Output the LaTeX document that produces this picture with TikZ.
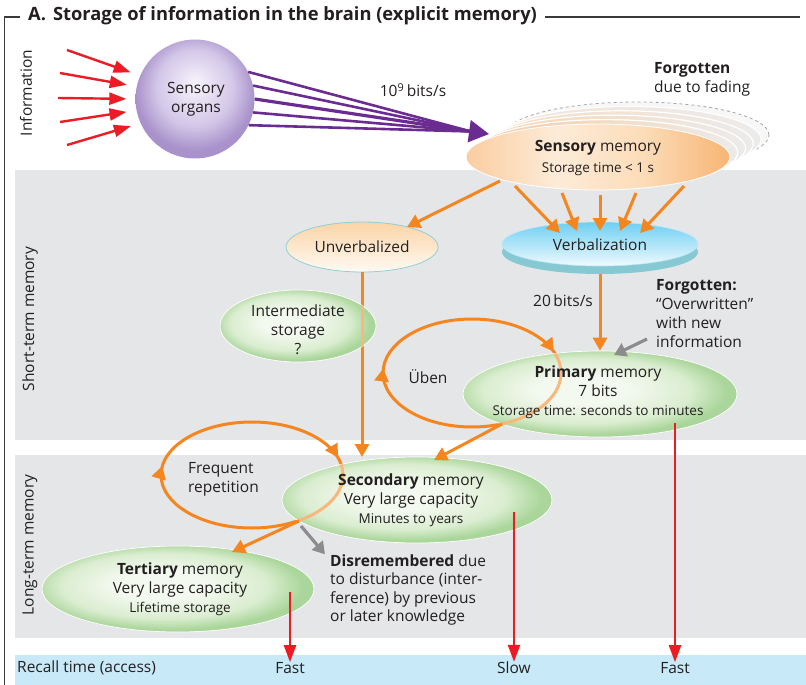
\documentclass[tikz,border=0pt]{standalone}
\usepackage{fontspec}
\setmainfont{Open Sans}
\usetikzlibrary{arrows.meta,decorations.markings,shapes.geometric,calc}
\definecolor{bandgray}{HTML}{E5E6E8}
\definecolor{recallblue}{HTML}{C7E9F8}
\definecolor{redarr}{HTML}{ED1C24}
\definecolor{orarr}{HTML}{F5861F}
\definecolor{orlight}{HTML}{FBB67C}
\definecolor{purparr}{HTML}{6B2C91}
\definecolor{txtc}{HTML}{231F20}
\definecolor{framec}{HTML}{3A3A3A}
\definecolor{grayarr}{HTML}{8C8C8E}
\definecolor{unvborder}{HTML}{8FD0D8}
\definecolor{unvtop}{HTML}{FBD4A6}
\definecolor{unvbot}{HTML}{FFFAF3}
\definecolor{verbtop}{HTML}{6DCFF3}
\definecolor{verbbot}{HTML}{F0FAFE}
\definecolor{verbrimc}{HTML}{86C9D3}
\definecolor{g0}{HTML}{F4F9F0}
\definecolor{g1}{HTML}{DAEDD0}
\definecolor{g2}{HTML}{ABD69B}
\definecolor{p0}{HTML}{F7F4FB}
\definecolor{p1}{HTML}{D3C7E8}
\definecolor{p2}{HTML}{A992CB}
\definecolor{o1}{HTML}{FACDA0}
\definecolor{o2}{HTML}{FDEBD8}
\definecolor{o3}{HTML}{FCDDBA}
\definecolor{o4}{HTML}{F7B574}
\definecolor{fadegray}{HTML}{ECEBEA}
\pgfdeclareradialshading{greensh}{\pgfpoint{-4bp}{3bp}}{color(0bp)=(g0); color(8bp)=(g0); color(19bp)=(g1); color(25bp)=(g2); color(50bp)=(g2)}
\pgfdeclareradialshading{purpsh}{\pgfpoint{0bp}{7bp}}{color(0bp)=(p0); color(16bp)=(p1); color(25bp)=(p2); color(50bp)=(p2)}
\pgfdeclarehorizontalshading{senssh}{100bp}{color(0bp)=(o1); color(25bp)=(o1); color(42bp)=(o2); color(58bp)=(o3); color(75bp)=(o4); color(100bp)=(o4)}
\newcommand{\fsz}{\fontsize{15.5}{19}\selectfont}
\newcommand{\fsm}{\fontsize{13.5}{19}\selectfont}
\newcommand{\ftitle}{\fontsize{18.3}{22}\selectfont\bfseries}
\begin{document}
\begin{tikzpicture}[x=1pt,y=-1pt, line join=round,
  txt/.style={text=txtc, font=\fsz, inner sep=0pt},
  redarrow/.style={draw=redarr, line width=2.4pt, -{Triangle[length=17pt,width=12pt]}},
  orarrow/.style={draw=orarr, line width=3pt, -{Triangle[length=13pt,width=14pt]}},
  grayarrow/.style={draw=grayarr, line width=3.2pt, -{Triangle[length=12pt,width=14pt]}},
  purpline/.style={draw=purparr, line width=2.6pt},
  loopline/.style={draw=orarr, line width=3pt},
  looplight/.style={draw=orlight, line width=3pt},
  loophead/.style={color=orarr, line width=3pt},
  greenell/.style={ellipse, shade, shading=greensh, draw=white, line width=0.7pt, inner sep=0pt},
]
\useasboundingbox (0,0) rectangle (806,685);
% bands
\fill[bandgray] (15,170) rectangle (806,440);
\fill[bandgray] (15,455) rectangle (806,638);
\fill[recallblue] (15,655) rectangle (806,685);
% frame and title
\draw[framec, line width=1.2pt] (20,17) -- (4.5,17) -- (4.5,685);
\draw[framec, line width=1.2pt] (545,17) -- (800,17);
\node[anchor=west, text=txtc, font=\ftitle, inner sep=0pt] (title) at (28,16) {A.\hspace{7pt}Storage of information in the brain (explicit memory)};
% side labels
\node[txt, rotate=90] (linfo) at (26,93) {Information};
\node[txt, rotate=90] (lstm) at (30,319) {Short-term memory};
\node[txt, rotate=90] (lltm) at (30,545) {Long-term memory};
% sensory organs
\node[circle, minimum size=119pt, inner sep=0pt, shade, shading=purpsh] (so) at (195,99) {};
\node[txt, align=center] (sot) at (196,99) {Sensory\\organs};
\coordinate (r1) at (67,50);
\coordinate (r2) at (60,73);
\coordinate (r3) at (58,98);
\coordinate (r4) at (60,122);
\coordinate (r5) at (67,145);
\draw[redarrow, shorten >=10pt] (r1) -- (so.157);
\draw[redarrow, shorten >=10pt] (r2) -- (so.168);
\draw[redarrow, shorten >=9pt] (r3) -- (so.180);
\draw[redarrow, shorten >=10pt] (r4) -- (so.191);
\draw[redarrow, shorten >=10pt] (r5) -- (so.204);
% fading copies of sensory memory
\coordinate (sensc) at (598,157);
\node[ellipse, minimum width=264pt, minimum height=66pt, inner sep=0pt, fill=black!3, draw=black!35, dashed, line width=0.8pt] (fade5) at ($(sensc)+(39,-22)$) {};
\foreach \k/\fc in {4/F4E4D6,3/F6DCC3,2/F8D4B2,1/F9CCA0} {
  \definecolor{fadec}{HTML}{\fc}
  \node[ellipse, minimum width=264pt, minimum height=66pt, inner sep=0pt, left color=fadec, right color=fadegray, draw=white, line width=1.2pt] (fade\k) at ($(sensc)+(7.8*\k,-4.4*\k)$) {};
}
\node[ellipse, minimum width=264pt, minimum height=66pt, inner sep=0pt, shade, shading=senssh, draw=white, line width=0.8pt] (sens) at (sensc) {};
\node[txt, align=center, font=\fontsize{15.5}{21}\selectfont] (senst) at (598,158) {\textbf{Sensory} memory\\{\fsm Storage time < 1 s}};
\node[txt, anchor=west, align=left] (fadet) at (654,79) {\textbf{Forgotten}\\due to fading};
% purple bundle
\coordinate (pconv) at (471,131.5);
\coordinate (ptip) at ($(sens.center)+(-109,-23)$);
\draw[purpline] (so.27) -- (pconv);
\draw[purpline] (so.13) -- (pconv);
\draw[purpline, line width=3.2pt] (so.0) -- (pconv);
\draw[purpline] (so.-13) -- (pconv);
\draw[purpline] (so.-26) -- (pconv);
\draw[purpline, -{Triangle[length=20pt,width=22pt]}] ($(pconv)+(-2,-0.3)$) -- (ptip);
\node[txt] (rate1) at (413,90) {10\textsuperscript{9}\,bits/s};
% loops and lines under ellipses
\coordinate (ubc) at (472,373);
\coordinate (frc) at (252,475);
\draw[loopline] (ubc) ellipse [x radius=89pt, y radius=54pt];
\draw[loopline] (frc) ellipse [x radius=91pt, y radius=53pt];
% ellipses
\node[ellipse, minimum width=152pt, minimum height=50pt, inner sep=0pt, top color=unvtop, bottom color=unvbot, draw=unvborder, line width=0.8pt] (unv) at (362,247) {};
\node[ellipse, minimum width=196pt, minimum height=44pt, inner sep=0pt, fill=verbrimc] (verbrim) at (600,252) {};
\node[ellipse, minimum width=196pt, minimum height=44pt, inner sep=0pt, top color=verbtop, bottom color=verbbot, draw=verbtop!50!white, line width=0.6pt] (verb) at (600,244) {};
\draw[orarrow] (unv.south) -- (unv.south |- 0,457);
\node[greenell, minimum width=156pt, minimum height=72pt] (inter) at (298,326) {};
\node[greenell, minimum width=274pt, minimum height=86pt] (prim) at (600,394) {};
\node[greenell, minimum width=270pt, minimum height=86pt] (sec) at (417,500) {};
\node[greenell, minimum width=272pt, minimum height=86pt] (ter) at (178,589) {};
% light overlays inside ellipses
\begin{scope}
  \clip (prim.center) ellipse [x radius=137pt, y radius=43pt];
  \draw[looplight] (ubc) ellipse [x radius=89pt, y radius=54pt];
\end{scope}
\begin{scope}
  \clip (sec.center) ellipse [x radius=135pt, y radius=43pt];
  \draw[looplight] (frc) ellipse [x radius=91pt, y radius=53pt];
\end{scope}
\begin{scope}
  \clip (inter.center) ellipse [x radius=78pt, y radius=36pt];
  \draw[draw=orlight, line width=3pt] (unv.south) -- (unv.south |- 0,457);
\end{scope}
% loop arrowheads
\path[loophead, postaction={decorate}, decoration={markings,
  mark=at position 0.05 with {\arrowreversed{Triangle[length=13pt,width=14pt]}},
  mark=at position 0.49 with {\arrowreversed{Triangle[length=13pt,width=14pt]}}}]
  (ubc) ellipse [x radius=89pt, y radius=54pt];
\path[loophead, postaction={decorate}, decoration={markings,
  mark=at position 0.04 with {\arrowreversed{Triangle[length=13pt,width=14pt]}},
  mark=at position 0.48 with {\arrowreversed{Triangle[length=13pt,width=14pt]}}}]
  (frc) ellipse [x radius=91pt, y radius=53pt];
% ellipse texts
\node[txt] (unvt) at (362,247) {Unverbalized};
\node[txt] (verbt) at (600,245) {Verbalization};
\node[txt, align=center] (intert) at (298,330) {Intermediate\\storage\\?};
\node[txt, align=center] (primt) at (598,392) {\textbf{Primary} memory\\7 bits\\{\fsm Storage time: seconds to minutes}};
\node[txt, align=center] (sect) at (411,500) {\textbf{Secondary} memory\\Very large capacity\\{\fsm Minutes to years}};
\node[txt, align=center] (tert) at (180,589) {\textbf{Tertiary} memory\\Very large capacity\\{\fsm Lifetime storage}};
\node[txt] (ubent) at (428,377) {Üben};
\node[txt, anchor=west, align=left] (freqt) at (188,479) {Frequent\\repetition};
\node[txt] (rate2) at (563,301) {20\,bits/s};
\node[txt, anchor=west, align=left] (forg) at (656,314) {\textbf{Forgotten:}\\“Overwritten”\\with new\\information};
\node[txt, anchor=west, align=left, font=\fontsize{15.5}{18.5}\selectfont] (dis) at (330,590) {\textbf{Disremembered} due\\to disturbance (inter-\\ference) by previous\\or later knowledge};
% recall band labels
\node[txt, anchor=west] (recall) at (17,668) {Recall time (access)};
\node[txt] (fast1) at (290,668) {Fast};
\node[txt] (slow) at (514,668) {Slow};
\node[txt] (fast2) at (675,668) {Fast};
% orange arrows
\draw[orarrow] ($(sens.center)+(-98,24)$) -- ($(unv.center)+(45,-20)$);
\draw[orarrow] ($(sens.center)+(-83,29)$) -- ($(verb.center)+(-40,-11)$);
\draw[orarrow] ($(sens.center)+(-36,36)$) -- ($(verb.center)+(-23,-13)$);
\draw[orarrow] ($(sens.center)+(2,38)$) -- ($(verb.center)+(0,-13)$);
\draw[orarrow] ($(sens.center)+(38,36)$) -- ($(verb.center)+(20,-13)$);
\draw[orarrow] ($(sens.center)+(86,29)$) -- ($(verb.center)+(40,-11)$);
\draw[orarrow] (verbrim.south) -- (prim.north);
\coordinate (ubout) at (502,424);
\coordinate (frout) at (299,521);
\draw[orarrow] (ubout) -- ($(sec.center)+(17,-40)$);
\draw[orarrow] (frout) -- ($(ter.center)+(54,-37)$);
% gray arrows
\draw[grayarrow] ($(frout)+(2,5)$) -- ($(dis.north west)+(-5,0)$);
\draw[grayarrow] ($(forg.west)+(-9,25)$) -- ($(prim.center)+(14,-39)$);
% red recall arrows
\draw[redarrow] ($(prim.center)+(75,29)$) -- (fast2.north);
\draw[redarrow] ($(sec.center)+(97,12)$) -- (slow.north);
\draw[redarrow] ($(ter.center)+(112,3)$) -- (fast1.north);
\end{tikzpicture}
\end{document}
